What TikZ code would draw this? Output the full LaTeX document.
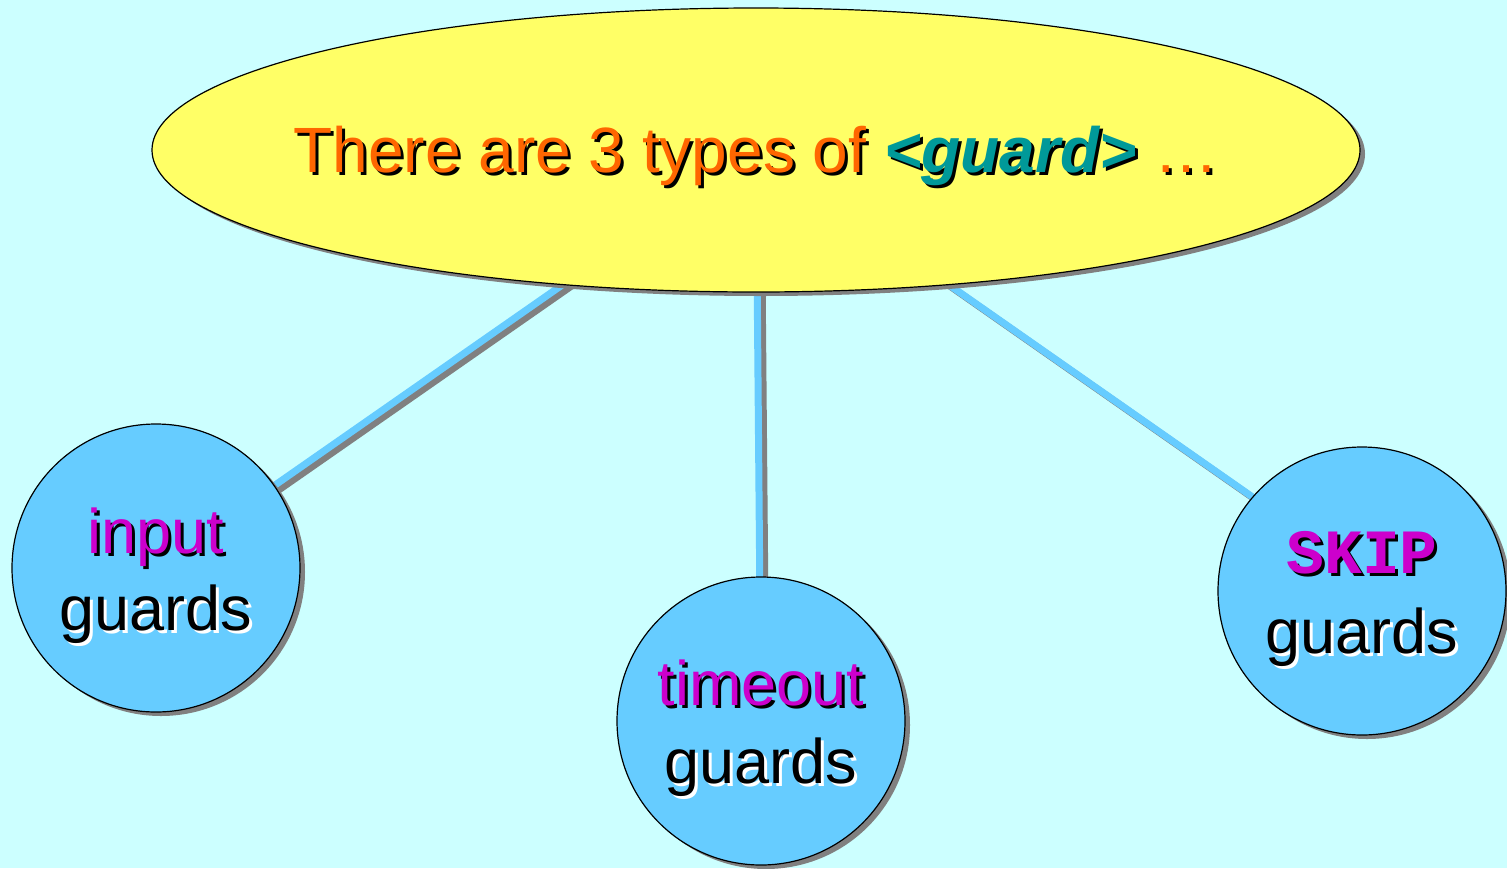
\documentclass[tikz,border=0pt]{standalone}
\usepackage{fontspec}
\setmainfont{Liberation Sans}
\setmonofont{Liberation Mono}
\usetikzlibrary{shapes.geometric,shadows}
\definecolor{bgc}{HTML}{CCFFFF}
\definecolor{ellc}{HTML}{FFFF66}
\definecolor{circc}{HTML}{66CCFF}
\definecolor{orc}{HTML}{FF6600}
\definecolor{tealc}{HTML}{009999}
\definecolor{magc}{HTML}{CC00CC}
\definecolor{shc}{HTML}{808080}
\newcommand\shtext[3]{\leavevmode\rlap{\hspace{3pt}\raisebox{-3pt}{\color{#2}#3}}{\color{#1}#3}}
\pgfdeclarelayer{bg}
\pgfdeclarelayer{lines}
\pgfsetlayers{bg,lines,main}
\tikzset{
  myshadow/.style={drop shadow={shadow xshift=5pt, shadow yshift=-4pt, fill=shc, opacity=1}},
  topell/.style={ellipse, draw=black, line width=1.2pt, fill=ellc, minimum width=1208pt, minimum height=284pt, inner sep=0pt, myshadow},
  guardcirc/.style={circle, draw=black, line width=1.2pt, fill=circc, minimum size=288pt, inner sep=0pt, myshadow},
  conn/.style={draw=circc, line width=7pt},
  connshadow/.style={draw=shc, line width=7pt, transform canvas={shift={(5pt,-4pt)}}},
  txt/.style={inner sep=0pt, anchor=base}
}
\begin{document}
\begin{tikzpicture}[x=1pt, y=-1pt, font=\fontsize{63}{77}\selectfont]
\begin{pgfonlayer}{bg}
  \fill[bgc] (0,0) rectangle (1507,868);
\end{pgfonlayer}
\useasboundingbox (0,0) rectangle (1507,868);

\node[topell] (top) at (756,150) {};
\node[guardcirc] (in) at (156,568) {};
\node[guardcirc] (to) at (761,721) {};
\node[guardcirc] (sk) at (1362,591) {};

\begin{pgfonlayer}{lines}
  \draw[connshadow] (top.center) -- (in.center);
  \draw[conn] (top.center) -- (in.center);
  \draw[connshadow] (top.center) -- (to.center);
  \draw[conn] (top.center) -- (to.center);
  \draw[connshadow] (top.center) -- ([xshift=25pt]sk.center);
  \draw[conn] (top.center) -- ([xshift=25pt]sk.center);
\end{pgfonlayer}

\node[txt, font=\fontsize{64}{77}\selectfont] (title) at (756,172) {\shtext{orc}{black}{There are 3 types of} \shtext{tealc}{black}{\bfseries\itshape <guard>} \shtext{orc}{black}{…}};

\node[txt] (in1) at ([yshift=15pt]in.center) {\shtext{magc}{black}{input}};
\node[txt] (in2) at ([yshift=-62pt]in.center) {\shtext{black}{white}{guards}};

\node[txt] (to1) at ([yshift=16pt]to.center) {\shtext{magc}{black}{timeout}};
\node[txt] (to2) at ([yshift=-62pt]to.center) {\shtext{black}{white}{guards}};

\node[txt] (sk1) at ([yshift=18pt]sk.center) {\shtext{magc}{black}{\ttfamily\bfseries SKIP}};
\node[txt] (sk2) at ([yshift=-62pt]sk.center) {\shtext{black}{white}{guards}};
\end{tikzpicture}
\end{document}
